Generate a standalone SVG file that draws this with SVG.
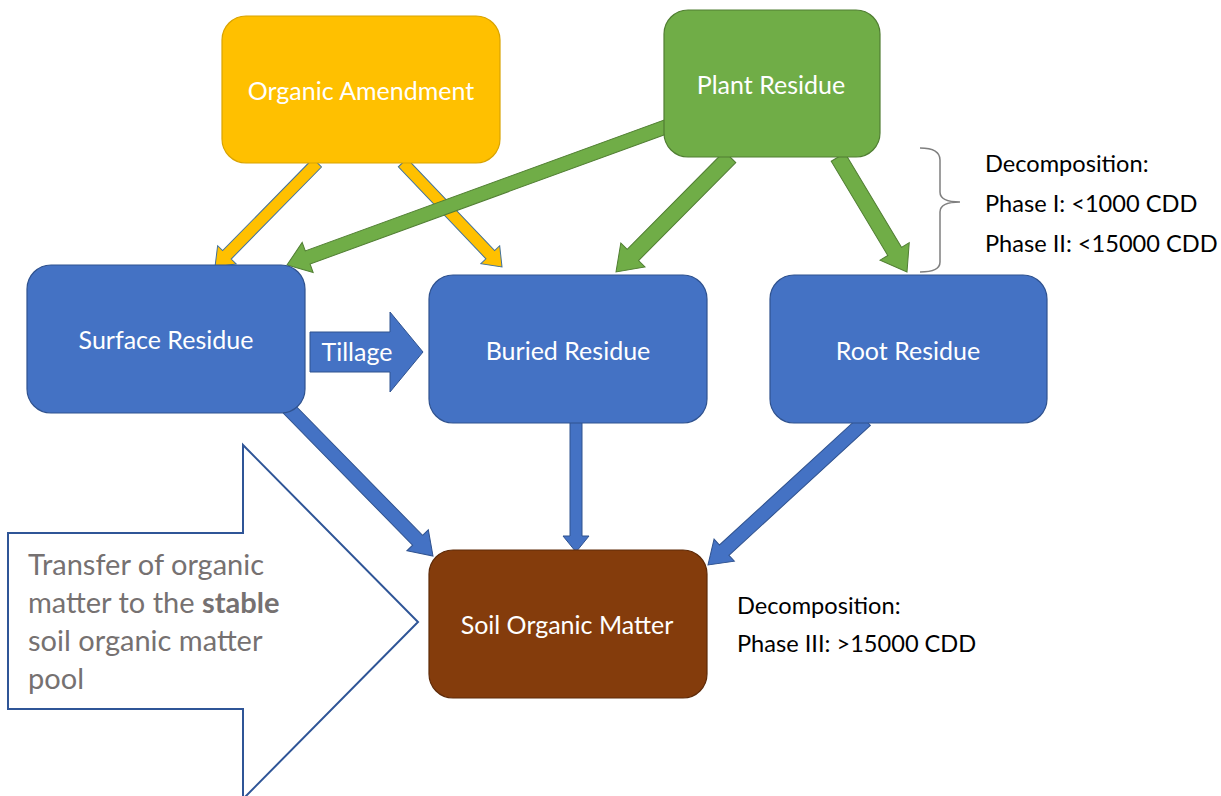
<svg xmlns="http://www.w3.org/2000/svg" width="1221" height="796" viewBox="0 0 1221 796">
<style>
.lbl{font-family:Lato,"Liberation Sans",sans-serif;font-size:25px;fill:#fff;text-anchor:middle}
.note{font-family:Lato,"Liberation Sans",sans-serif;font-size:23.6px;fill:#000}
.gray{font-family:Lato,"Liberation Sans",sans-serif;font-size:29px;fill:#767171}
.blue{fill:#4472C4;stroke:#2F528F;stroke-width:1.2}
.orange{fill:#FFC000;stroke:#41719C;stroke-width:1}
.green{fill:#70AD47;stroke:#507E32;stroke-width:1}
.barrow{fill:#4472C4;stroke:#2F528F;stroke-width:1}
</style>
<rect width="1221" height="796" fill="#fff"/>
<g id="connectors">
  <polygon class="orange" transform="translate(215,267) rotate(134.45)" points="-146,-6 -17,-6 -17,-13 0,0 -17,13 -17,6 -146,6"/>
  <polygon class="orange" transform="translate(502,267) rotate(46.4)" points="-144,-6 -17,-6 -17,-13 0,0 -17,13 -17,6 -144,6"/>
  <polygon class="green" transform="translate(287,265) rotate(159.96)" points="-406,-7 -22,-7 -22,-16 0,0 -22,16 -22,7 -406,7"/>
  <polygon class="green" transform="translate(616,272) rotate(134.75)" points="-162,-8 -24,-8 -24,-17 0,0 -24,17 -24,8 -162,8"/>
  <polygon class="green" transform="translate(907,272) rotate(59.04)" points="-134,-8 -24,-8 -24,-17 0,0 -24,17 -24,8 -134,8"/>
  <polygon class="barrow" transform="translate(433,556) rotate(45.59)" points="-207,-7 -22,-7 -22,-15 0,0 -22,15 -22,7 -207,7"/>
  <polygon class="barrow" transform="translate(576,552) rotate(90)" points="-132,-6 -16,-6 -16,-13 0,0 -16,13 -16,6 -132,6"/>
  <polygon class="barrow" transform="translate(708,565) rotate(137.46)" points="-214,-7 -22,-7 -22,-15 0,0 -22,15 -22,7 -214,7"/>
</g>
<g id="tillage">
  <polygon class="barrow" points="310,332 390,332 390,312 423,352 390,392 390,372 310,372"/>
  <text class="lbl" x="357" y="361">Tillage</text>
</g>
<g id="organic-amendment">
  <rect x="222" y="16" width="278" height="147" rx="24" fill="#FFC000" stroke="#D9A300" stroke-width="1.2"/>
  <text class="lbl" x="361" y="100">Organic Amendment</text>
</g>
<g id="plant-residue">
  <rect x="664" y="10" width="216" height="147" rx="24" fill="#70AD47" stroke="#507E32" stroke-width="1.2"/>
  <text class="lbl" x="771" y="94">Plant Residue</text>
</g>
<g id="surface-residue">
  <rect class="blue" x="27" y="265" width="278" height="148" rx="24"/>
  <text class="lbl" x="166" y="349">Surface Residue</text>
</g>
<g id="buried-residue">
  <rect class="blue" x="429" y="275" width="278" height="148" rx="24"/>
  <text class="lbl" x="568" y="360">Buried Residue</text>
</g>
<g id="root-residue">
  <rect class="blue" x="770" y="275" width="277" height="148" rx="24"/>
  <text class="lbl" x="908" y="360">Root Residue</text>
</g>
<g id="soil-organic-matter">
  <rect x="429" y="550" width="278" height="148" rx="24" fill="#843C0C" stroke="#5E2A08" stroke-width="1.2"/>
  <text class="lbl" x="567" y="634">Soil Organic Matter</text>
</g>
<g id="brace-note">
  <path d="M920,148 Q940,148 940,160 L940,192 Q940,202 960,202 Q940,202 940,212 L940,262 Q940,272 920,272" fill="none" stroke="#7F7F7F" stroke-width="1.5"/>
  <text class="note" x="985" y="172">Decomposition:</text>
  <text class="note" x="985" y="212">Phase I: &lt;1000 CDD</text>
  <text class="note" x="985" y="252">Phase II: &lt;15000 CDD</text>
</g>
<g id="som-note">
  <text class="note" x="737" y="614">Decomposition:</text>
  <text class="note" x="737" y="652">Phase III: &gt;15000 CDD</text>
</g>
<g id="transfer-arrow">
  <polygon points="8,533 243,533 243,445 418,622 243,799 243,709 8,709" fill="#fff" stroke="#2F5597" stroke-width="2"/>
  <text class="gray" x="28" y="575">Transfer of organic</text>
  <text class="gray" x="28" y="613">matter to the <tspan font-weight="bold">stable</tspan></text>
  <text class="gray" x="28" y="651">soil organic matter</text>
  <text class="gray" x="28" y="689">pool</text>
</g>
</svg>
